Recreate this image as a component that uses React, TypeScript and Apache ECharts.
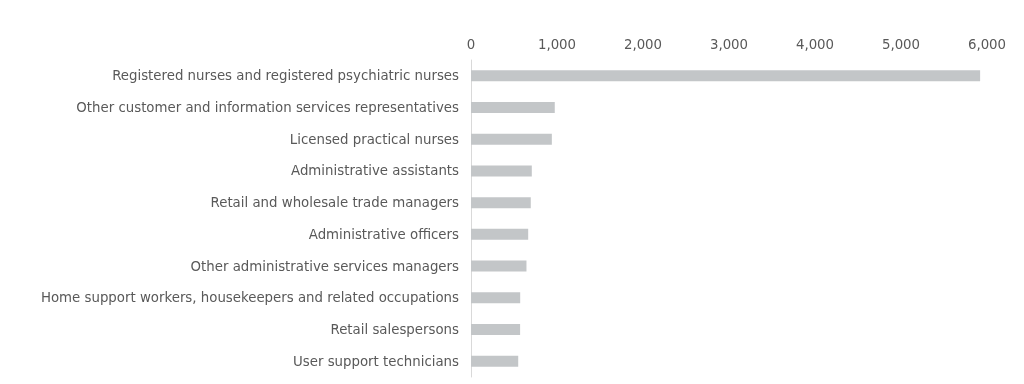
import React, { useEffect, useRef } from "react";
import * as echarts from "echarts";

const categories = [
  "Registered nurses and registered psychiatric nurses",
  "Other customer and information services representatives",
  "Licensed practical nurses",
  "Administrative assistants",
  "Retail and wholesale trade managers",
  "Administrative officers",
  "Other administrative services managers",
  "Home support workers, housekeepers and related occupations",
  "Retail salespersons",
  "User support technicians",
];
const values = [5920, 974, 940, 707, 695, 665, 645, 572, 571, 549];
const tickMax = 6000;
const tickStep = 1000;

export default function App() {
  const ref = useRef<HTMLDivElement>(null);
  useEffect(() => {
    const chart = echarts.init(ref.current!, null, { renderer: "svg" });
    chart.setOption({
      animation: false,
      grid: { left: 471, right: 37, top: 60, bottom: 7, containLabel: false },
      xAxis: {
        type: "value",
        position: "top",
        min: 0,
        max: tickMax,
        interval: tickStep,
        axisLine: { show: false },
        axisTick: { show: false },
        splitLine: { show: false },
        axisLabel: {
          color: "#595959",
          fontFamily: "DejaVu Sans",
          fontSize: 13.33,
          margin: 9,
          formatter: (v: number) => v.toLocaleString("en-US"),
        },
      },
      yAxis: {
        type: "category",
        inverse: true,
        data: categories,
        axisLine: { show: true, lineStyle: { color: "#d9d9d9", width: 1 } },
        axisTick: { show: false },
        axisLabel: {
          color: "#595959",
          fontFamily: "DejaVu Sans",
          fontSize: 13.33,
          margin: 12,
        },
      },
      series: [
        {
          type: "bar",
          data: values,
          barWidth: 11,
          itemStyle: { color: "#c3c6c8" },
        },
      ],
    });
    return () => chart.dispose();
  }, []);
  return (
    <div
      ref={ref}
      style={{ position: "fixed", left: 0, top: 0, width: 1024, height: 384 }}
    />
  );
}
